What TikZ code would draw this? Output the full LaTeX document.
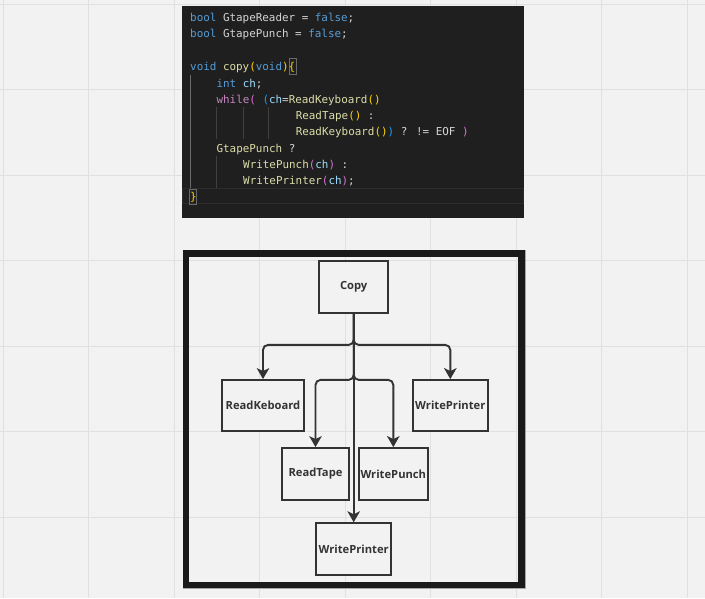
\documentclass[tikz,border=0pt]{standalone}
\usepackage{fontspec}
\setmainfont{Open Sans}
\newfontfamily\codefont{DejaVu Sans Mono}
\usetikzlibrary{arrows.meta}
\definecolor{bgc}{HTML}{F2F2F2}
\definecolor{gridc}{HTML}{E0E0E0}
\definecolor{codebg}{HTML}{1F1F1F}
\definecolor{curline}{HTML}{2C2C2C}
\definecolor{guidec}{HTML}{404040}
\definecolor{guideact}{HTML}{6A6A6A}
\definecolor{ckw}{HTML}{569CD6}
\definecolor{cfn}{HTML}{DCDCAA}
\definecolor{cid}{HTML}{D4D4D4}
\definecolor{cvar}{HTML}{9CDCFE}
\definecolor{cctl}{HTML}{C586C0}
\definecolor{cbA}{HTML}{FFD700}
\definecolor{cbB}{HTML}{DA70D6}
\definecolor{cbC}{HTML}{179FFF}
\definecolor{inkc}{HTML}{333333}
\definecolor{framec}{HTML}{1A1A1A}
\newcommand{\KW}[1]{\textcolor{ckw}{#1}}
\newcommand{\FN}[1]{\textcolor{cfn}{#1}}
\newcommand{\VR}[1]{\textcolor{cvar}{#1}}
\newcommand{\CT}[1]{\textcolor{cctl}{#1}}
\newcommand{\BA}[1]{\textcolor{cbA}{#1}}
\newcommand{\BB}[1]{\textcolor{cbB}{#1}}
\newcommand{\BC}[1]{\textcolor{cbC}{#1}}
\tikzset{
  codeline/.style={anchor=base west, inner sep=0pt, text=cid, font=\codefont\fontsize{10.9}{13}\selectfont},
  box/.style={draw=inkc, line width=1.8pt, fill=bgc, text=inkc, font=\fontsize{11.2}{13}\selectfont\bfseries, inner sep=0pt},
  conn/.style={draw=inkc, line width=1.9pt, rounded corners=5pt, -{Stealth[length=11pt,width=12.5pt,inset=3pt]}},
  guide/.style={draw=guidec, line width=0.8pt},
}
\begin{document}
\begin{tikzpicture}[x=1pt,y=-1pt]
\useasboundingbox (0,0) rectangle (705,598);
\fill[bgc] (0,0) rectangle (705,598);
% grid
\foreach \k in {0,...,8} {\draw[gridc, line width=1.2pt] ({3.3+85.5*\k},0) -- ({3.3+85.5*\k},598);}
\foreach \k in {0,...,6} {\draw[gridc, line width=1.2pt] (0,{4.3+85.5*\k}) -- (705,{4.3+85.5*\k});}
% code panel
\fill[codebg] (182,6) rectangle (524,218);
\draw[curline, line width=1.4pt] (182.7,188.5) rectangle (523.3,203.5);
% indent guides
\draw[guideact, line width=0.8pt] (190.5,75) -- (190.5,188);
\draw[guide] (216.7,107) -- (216.7,139);
\draw[guide] (216.7,156) -- (216.7,188);
\draw[guide] (243,107) -- (243,139);
\draw[guide] (268.5,107) -- (268.5,139);
% bracket match boxes
\draw[guideact, line width=0.8pt] (289.2,58.5) rectangle (296.4,74.5);
\draw[guideact, line width=0.8pt] (189.6,189) rectangle (196.8,204);
% code lines (baseline = centre + 4)
\node[codeline] (l1) at (190,21.4) {\KW{bool} GtapeReader = \KW{false};};
\node[codeline] (l2) at (190,37.7) {\KW{bool} GtapePunch = \KW{false};};
\node[codeline] (l4) at (190,70.3) {\KW{void} \FN{copy}\BA{(}\KW{void}\BA{)}\BA{\{}};
\node[codeline] (l5) at (216.4,87) {\KW{int} \VR{ch};};
\node[codeline] (l6) at (216.4,103.7) {\CT{while}\BB{(} \BC{(}\VR{ch}=\FN{ReadKeyboard}\BA{()}};
\node[codeline] (l7) at (295.6,119.3) {\FN{ReadTape}\BA{()} :};
\node[codeline] (l8) at (295.6,135.3) {\FN{ReadKeyboard}\BA{()}\BC{)} ? != EOF \BB{)}};
\node[codeline] (l9) at (216.4,152) {\FN{GtapePunch} ?};
\node[codeline] (l10) at (243,168.7) {\FN{WritePunch}\BB{(}\VR{ch}\BB{)} :};
\node[codeline] (l11) at (243,184.7) {\FN{WritePrinter}\BB{(}\VR{ch}\BB{)};};
\node[codeline] (l12) at (190,200.7) {\BA{\}}};
% frame
\draw[gray!70, line width=0.8pt] (183,250) rectangle (525,588);
\draw[framec, line width=6.5pt] (186.2,253.4) rectangle (521.6,584.8);
% boxes
\node[box, minimum width=69pt, minimum height=52pt] (copy) at (353.7,287) {Copy};
\node[box, minimum width=82pt, minimum height=51pt] (rk) at (263,405.5) {ReadKeboard};
\node[box, minimum width=75pt, minimum height=51pt] (wpr) at (450.3,405.5) {WritePrinter};
\node[box, minimum width=67pt, minimum height=52pt] (rt) at (315.5,474) {ReadTape};
\node[box, minimum width=69pt, minimum height=52pt] (wpu) at (393.3,474) {WritePunch};
\node[box, minimum width=75pt, minimum height=52pt] (wpb) at (353.7,549.2) {WritePrinter};
% connectors
\draw[conn] (copy.south) -- ++(0,31) -| (rk.north);
\draw[conn] (copy.south) -- ++(0,31) -| (wpr.north);
\draw[conn] (copy.south) -- ++(0,66) -| (rt.north);
\draw[conn] (copy.south) -- ++(0,66) -| (wpu.north);
\draw[conn, rounded corners=0pt] (copy.south) -- (wpb.north);
\end{tikzpicture}
\end{document}
